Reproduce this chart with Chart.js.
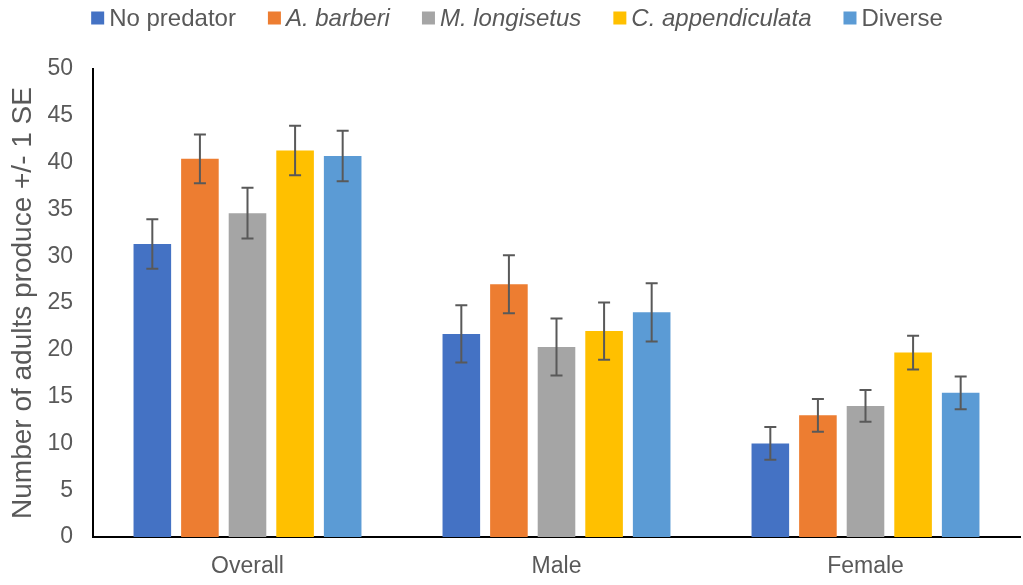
<!DOCTYPE html>
<html>
<head>
<meta charset="utf-8">
<script src="https://cdn.jsdelivr.net/npm/chart.js@4"></script>
<style>
  body { margin: 0; background: #fff; }
  canvas { display: block; }
</style>
</head>
<body>
<canvas id="chart" width="1023" height="585"></canvas>
<script>
const categories = ['Overall', 'Male', 'Female'];
const seriesNames = ['No predator', 'A. barberi', 'M. longisetus', 'C. appendiculata', 'Diverse'];
const seriesItalic = [false, true, true, true, false];
const seriesColors = ['#4472C4', '#ED7D31', '#A5A5A5', '#FFC000', '#5B9BD5'];

const noPredator = [31.3, 21.7, 10.0];
const aBarberi = [40.4, 27.0, 13.0];
const mLongisetus = [34.6, 20.3, 14.0];
const cAppendiculata = [41.3, 22.0, 19.7];
const diverse = [40.7, 24.0, 15.4];

const sePredator = [2.65, 3.05, 1.75];
const seBarberi = [2.6, 3.1, 1.75];
const seLongisetus = [2.7, 3.05, 1.7];
const seAppendiculata = [2.65, 3.05, 1.8];
const seDiverse = [2.7, 3.1, 1.75];

const yTicks = [0, 5, 10, 15, 20, 25, 30, 35, 40, 45, 50];

const values = [noPredator, aBarberi, mLongisetus, cAppendiculata, diverse];
const errors = [sePredator, seBarberi, seLongisetus, seAppendiculata, seDiverse];

const textColor = '#595959';
const fontFamily = '"Liberation Sans", Arial, sans-serif';

// error bars, drawn through the y scale
const errorBars = {
    id: 'errorBars',
    afterDatasetsDraw(chart) {
        const ctx = chart.ctx;
        const y = chart.scales.y;
        ctx.save();
        ctx.strokeStyle = '#595959';
        ctx.lineWidth = 2;
        chart.data.datasets.forEach((ds, i) => {
            const meta = chart.getDatasetMeta(i);
            meta.data.forEach((bar, j) => {
                const v = ds.data[j], e = errors[i][j];
                const top = y.getPixelForValue(v + e);
                const bot = y.getPixelForValue(v - e);
                ctx.beginPath();
                ctx.moveTo(bar.x, top); ctx.lineTo(bar.x, bot);
                ctx.moveTo(bar.x - 6, top); ctx.lineTo(bar.x + 6, top);
                ctx.moveTo(bar.x - 6, bot); ctx.lineTo(bar.x + 6, bot);
                ctx.stroke();
            });
        });
        ctx.restore();
    }
};

// legend with italic species names
const italicLegend = {
    id: 'italicLegend',
    afterDraw(chart) {
        const ctx = chart.ctx;
        const size = 24, box = 13, boxGap = 5, itemGap = 32, cy = 18;
        ctx.save();
        const widths = seriesNames.map((n, i) => {
            ctx.font = (seriesItalic[i] ? 'italic ' : '') + size + 'px ' + fontFamily;
            return ctx.measureText(n).width;
        });
        let total = 0;
        widths.forEach(w => total += box + boxGap + w);
        total += itemGap * (widths.length - 1);
        let x = 517 - total / 2;
        ctx.textBaseline = 'middle';
        seriesNames.forEach((n, i) => {
            ctx.fillStyle = seriesColors[i];
            ctx.fillRect(x, cy - box / 2, box, box);
            x += box + boxGap;
            ctx.font = (seriesItalic[i] ? 'italic ' : '') + size + 'px ' + fontFamily;
            ctx.fillStyle = textColor;
            ctx.fillText(n, x, cy + 1);
            x += widths[i] + itemGap;
        });
        ctx.restore();
    }
};

new Chart(document.getElementById('chart'), {
    type: 'bar',
    data: {
        labels: categories,
        datasets: seriesNames.map((name, i) => ({
            label: name,
            data: values[i],
            backgroundColor: seriesColors[i],
            categoryPercentage: 0.77,
            barPercentage: 0.79
        }))
    },
    options: {
        responsive: false,
        animation: false,
        layout: { padding: { top: 69, right: 3, left: 0, bottom: 0 } },
        plugins: {
            legend: { display: false },
            tooltip: { enabled: false }
        },
        scales: {
            x: {
                grid: { display: false, drawTicks: false },
                border: { display: true, color: '#000', width: 2 },
                ticks: { color: textColor, font: { size: 23, family: fontFamily }, padding: 16 },
                afterFit(scale) { scale.height = 48; }
            },
            y: {
                min: 0,
                max: 50,
                grid: { display: false, drawTicks: false },
                border: { display: true, color: '#000', width: 2 },
                afterBuildTicks(scale) { scale.ticks = yTicks.map(v => ({ value: v })); },
                ticks: { color: textColor, font: { size: 23, family: fontFamily }, padding: 20 },
                title: {
                    display: true,
                    text: 'Number of adults produce +/- 1 SE',
                    color: textColor,
                    font: { size: 28, family: fontFamily, weight: 'normal' },
                    padding: { top: 6, bottom: 0 }
                },
                afterFit(scale) { scale.width = 93; }
            }
        }
    },
    plugins: [errorBars, italicLegend]
});
</script>
</body>
</html>
